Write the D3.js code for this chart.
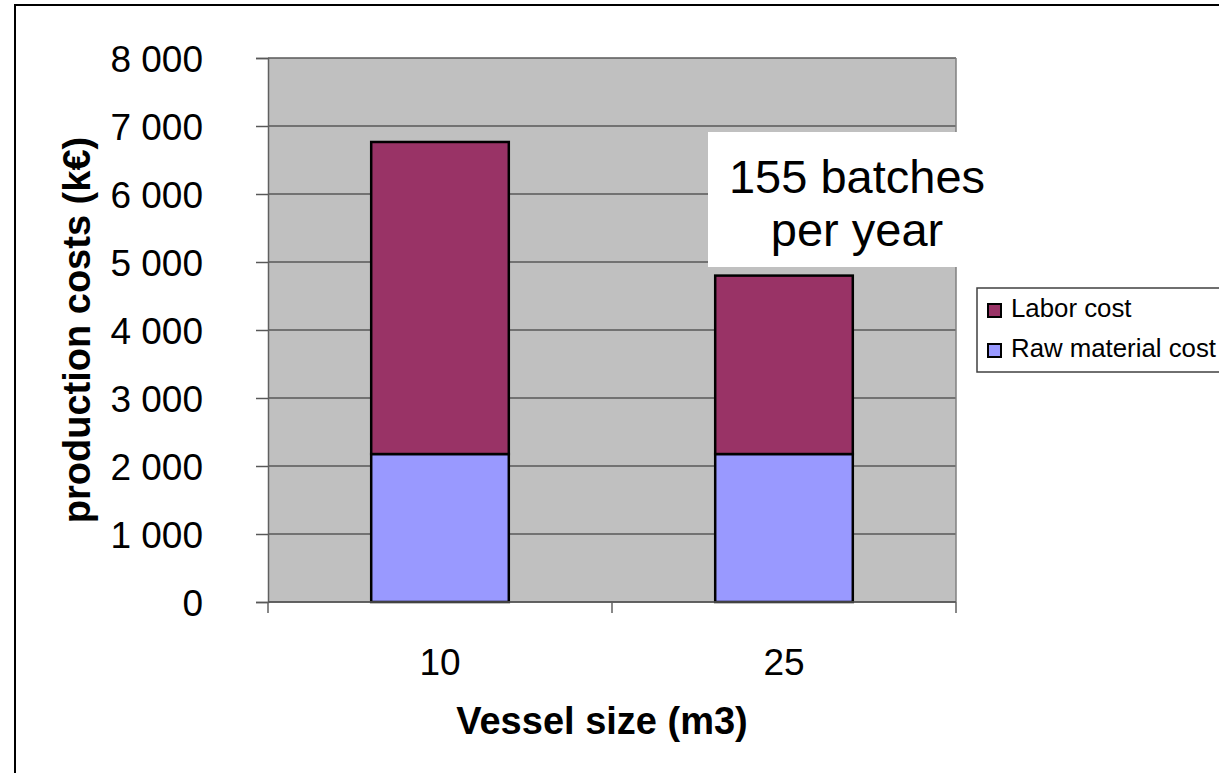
<!DOCTYPE html>
<html>
<head>
<meta charset="utf-8">
<script src="https://cdn.jsdelivr.net/npm/d3@7"></script>
<style>
  html, body { margin: 0; padding: 0; background: #fff; }
  svg { display: block; font-family: Arial, "Liberation Sans", sans-serif; }
</style>
</head>
<body>
<svg id="chart" width="1219" height="773"></svg>
<script>
// Vessel sizes (m3) and yearly production cost components (k€)
const categories = ["10", "25"];
const rawMaterialCost = [2176, 2176];
const laborCost = [4589, 2624];
const seriesNames = ["Labor cost", "Raw material cost"];
const yTicks = [0, 1000, 2000, 3000, 4000, 5000, 6000, 7000, 8000];
const noteLines = ["155 batches", "per year"];

const colors = { "Raw material cost": "#9999ff", "Labor cost": "#993366" };

const svg = d3.select("#chart");

const plot = { left: 268, right: 956, top: 58, bottom: 602 };

// Outer chart frame
svg.append("rect")
  .attr("x", 15).attr("y", 5)
  .attr("width", 1400).attr("height", 1000)
  .attr("fill", "#fff").attr("stroke", "#000").attr("stroke-width", 2);

const x = d3.scaleBand()
  .domain(categories)
  .range([plot.left, plot.right])
  .paddingInner(0.6)
  .paddingOuter(0.3);

const y = d3.scaleLinear()
  .domain([0, 8000])
  .range([plot.bottom, plot.top]);

// Plot background
svg.append("rect")
  .attr("x", plot.left).attr("y", plot.top)
  .attr("width", plot.right - plot.left).attr("height", plot.bottom - plot.top)
  .attr("fill", "#c0c0c0");

// Horizontal gridlines
svg.append("g")
  .selectAll("line")
  .data(yTicks)
  .join("line")
  .attr("x1", plot.left).attr("x2", plot.right)
  .attr("y1", d => y(d)).attr("y2", d => y(d))
  .attr("stroke", "#585858").attr("stroke-width", 1.5);

// Right edge of plot area
svg.append("line")
  .attr("x1", plot.right).attr("x2", plot.right)
  .attr("y1", plot.top).attr("y2", plot.bottom)
  .attr("stroke", "#808080").attr("stroke-width", 1.5);

// Stacked bars
const table = categories.map((c, i) => ({
  cat: c,
  "Raw material cost": rawMaterialCost[i],
  "Labor cost": laborCost[i]
}));
const stack = d3.stack().keys(["Raw material cost", "Labor cost"]);
const stacked = stack(table);

svg.append("g")
  .selectAll("g")
  .data(stacked)
  .join("g")
  .attr("fill", d => colors[d.key])
  .selectAll("rect")
  .data(d => d)
  .join("rect")
  .attr("x", d => x(d.data.cat))
  .attr("y", d => y(d[1]))
  .attr("width", x.bandwidth())
  .attr("height", d => y(d[0]) - y(d[1]))
  .attr("stroke", "#000")
  .attr("stroke-width", 2.5);

// Y axis
const yAxis = d3.axisLeft(y)
  .tickValues(yTicks)
  .tickSize(12)
  .tickPadding(53)
  .tickFormat(d => d3.format(",")(d).replace(/,/g, " "));
const gy = svg.append("g")
  .attr("transform", `translate(${plot.left},0)`)
  .call(yAxis);
gy.select(".domain").attr("stroke", "#606060").attr("stroke-width", 1.5);
gy.selectAll(".tick line").attr("stroke", "#585858").attr("stroke-width", 1.5);
gy.selectAll(".tick text")
  .attr("font-size", 37)
  .attr("fill", "#000")
  .attr("font-family", "Arial, 'Liberation Sans', sans-serif")
  .attr("dy", "0.36em");

// X axis: category separators plus centred labels
const sepTicks = [plot.left, (plot.left + plot.right) / 2, plot.right];
svg.append("line")
  .attr("x1", plot.left).attr("x2", plot.right)
  .attr("y1", plot.bottom).attr("y2", plot.bottom)
  .attr("stroke", "#585858").attr("stroke-width", 1.5);
svg.append("g")
  .selectAll("line")
  .data(sepTicks)
  .join("line")
  .attr("x1", d => d).attr("x2", d => d)
  .attr("y1", plot.bottom).attr("y2", plot.bottom + 11)
  .attr("stroke", "#606060").attr("stroke-width", 1.5);
svg.append("g")
  .selectAll("text")
  .data(categories)
  .join("text")
  .attr("x", d => x(d) + x.bandwidth() / 2)
  .attr("y", 675)
  .attr("text-anchor", "middle")
  .attr("font-size", 37)
  .text(d => d);

// Axis titles
svg.append("text")
  .attr("x", (plot.left + plot.right) / 2 - 10)
  .attr("y", 734)
  .attr("text-anchor", "middle")
  .attr("font-size", 38)
  .attr("font-weight", "bold")
  .text("Vessel size (m3)");

svg.append("text")
  .attr("transform", `translate(90,${(plot.top + plot.bottom) / 2}) rotate(-90)`)
  .attr("text-anchor", "middle")
  .attr("font-size", 38)
  .attr("font-weight", "bold")
  .text("production costs (k€)");

// Annotation box
svg.append("rect")
  .attr("x", 708).attr("y", 132)
  .attr("width", 290).attr("height", 135)
  .attr("fill", "#fff");
svg.append("g")
  .selectAll("text")
  .data(noteLines)
  .join("text")
  .attr("x", 857)
  .attr("y", (d, i) => 193 + i * 53)
  .attr("text-anchor", "middle")
  .attr("font-size", 47)
  .text(d => d);

// Legend
const legend = svg.append("g");
legend.append("rect")
  .attr("x", 977).attr("y", 288)
  .attr("width", 300).attr("height", 84)
  .attr("fill", "#fff").attr("stroke", "#404040").attr("stroke-width", 1.5);
const items = legend.selectAll("g.item")
  .data(seriesNames)
  .join("g")
  .attr("class", "item")
  .attr("transform", (d, i) => `translate(988,${304 + i * 40})`);
items.append("rect")
  .attr("width", 13).attr("height", 13)
  .attr("fill", d => colors[d])
  .attr("stroke", "#000").attr("stroke-width", 2);
items.append("text")
  .attr("x", 23).attr("y", 13)
  .attr("font-size", 25.8)
  .text(d => d);
</script>
</body>
</html>
